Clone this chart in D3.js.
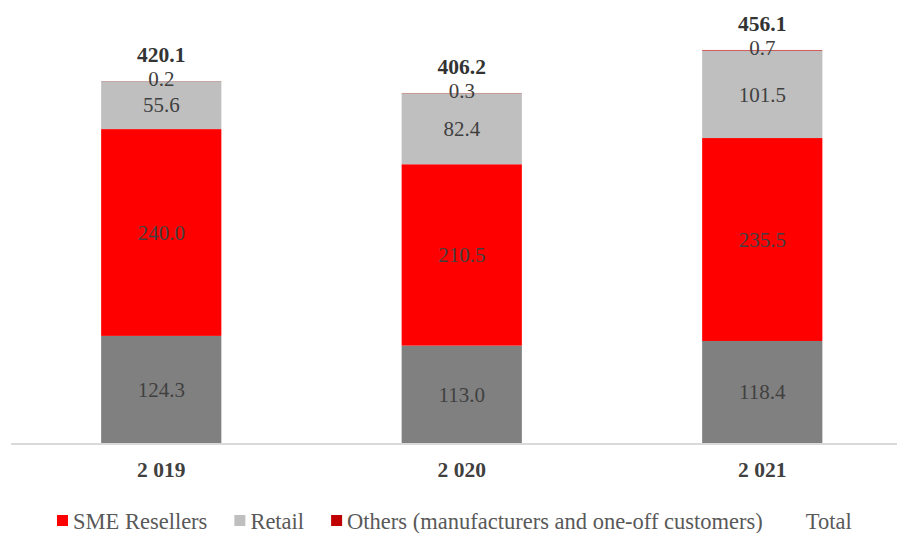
<!DOCTYPE html>
<html>
<head>
<meta charset="utf-8">
<script src="https://cdn.jsdelivr.net/npm/d3@7"></script>
<style>
  html, body { margin: 0; padding: 0; background: #ffffff; }
</style>
</head>
<body>
<div id="chart"></div>
<script>
// Chart data
const years = ['2 019', '2 020', '2 021'];
const baseValues = [124.3, 113.0, 118.4];
const smeValues = [240.0, 210.5, 235.5];
const retailValues = [55.6, 82.4, 101.5];
const othersValues = [0.2, 0.3, 0.7];
const totals = [420.1, 406.2, 456.1];

const seriesNames = ['', 'SME Resellers', 'Retail', 'Others (manufacturers and one-off customers)'];
const seriesColors = ['#808080', '#ff0000', '#bfbfbf', '#c00000'];
const seriesValues = [baseValues, smeValues, retailValues, othersValues];

const fontFamily = "'Liberation Serif', 'Times New Roman', Times, 'DejaVu Serif', serif";
const totalWidth = 897;
const totalHeight = 533;
const baseline = 443;

const svg = d3
  .select('#chart')
  .append('svg')
  .attr('width', totalWidth)
  .attr('height', totalHeight)
  .attr('font-family', fontFamily);

const xScale = d3
  .scaleBand()
  .domain(years)
  .range([11, 912.5])
  .paddingInner(0.6)
  .paddingOuter(0.3);

const yScale = d3.scaleLinear().domain([0, 420.1]).range([baseline, 81]);

// Build stacked rows
const rows = years.map((year, i) => {
  let acc = 0;
  return seriesValues.map((vals, s) => {
    const y0 = acc;
    acc += vals[i];
    return { year, s, value: vals[i], y0, y1: acc };
  });
});

// Bars
rows.forEach((segments) => {
  svg
    .selectAll(null)
    .data(segments)
    .join('rect')
    .attr('x', (d) => xScale(d.year))
    .attr('width', xScale.bandwidth())
    .attr('y', (d) => yScale(d.y1))
    .attr('height', (d) => yScale(d.y0) - yScale(d.y1))
    .attr('fill', (d) => seriesColors[d.s]);
});

// X axis line
svg
  .append('line')
  .attr('x1', 11)
  .attr('x2', totalWidth)
  .attr('y1', baseline + 1)
  .attr('y2', baseline + 1)
  .attr('stroke', '#d9d9d9')
  .attr('stroke-width', 2);

// Segment labels (tiny "others" label sits on the bar top)
rows.forEach((segments) => {
  svg
    .selectAll(null)
    .data(segments)
    .join('text')
    .attr('x', (d) => xScale(d.year) + xScale.bandwidth() / 2)
    .attr('y', (d) => (d.s === 3 ? yScale(d.y1) + 5 : (yScale(d.y0) + yScale(d.y1)) / 2))
    .attr('dy', (d) => (d.s === 3 ? 0 : '0.35em'))
    .attr('text-anchor', 'middle')
    .attr('font-size', 21)
    .attr('fill', '#404040')
    .text((d) => d.value.toFixed(1));
});

// Total labels
svg
  .selectAll('.total')
  .data(years)
  .join('text')
  .attr('class', 'total')
  .attr('x', (d) => xScale(d) + xScale.bandwidth() / 2)
  .attr('y', (d, i) => yScale(totals[i]) - 19)
  .attr('text-anchor', 'middle')
  .attr('font-size', 21.5)
  .attr('font-weight', 'bold')
  .attr('fill', '#333333')
  .text((d, i) => totals[i].toFixed(1));

// Category labels
svg
  .selectAll('.cat')
  .data(years)
  .join('text')
  .attr('class', 'cat')
  .attr('x', (d) => xScale(d) + xScale.bandwidth() / 2)
  .attr('y', 477)
  .attr('text-anchor', 'middle')
  .attr('font-size', 21.5)
  .attr('font-weight', 'bold')
  .attr('fill', '#404040')
  .text((d) => d);

// Legend
const legendItems = [
  { name: seriesNames[1], color: seriesColors[1] },
  { name: seriesNames[2], color: seriesColors[2] },
  { name: seriesNames[3], color: seriesColors[3] },
  { name: 'Total', color: 'none' },
];
const legend = svg.append('g').attr('transform', 'translate(57,521)');
let cursor = 0;
legendItems.forEach((item) => {
  const g = legend.append('g').attr('transform', `translate(${cursor},0)`);
  g.append('rect')
    .attr('x', 0)
    .attr('y', -6)
    .attr('width', 11)
    .attr('height', 11)
    .attr('fill', item.color);
  const t = g
    .append('text')
    .attr('x', 16)
    .attr('y', 0)
    .attr('dy', '0.35em')
    .attr('font-size', 22.5)
    .attr('fill', '#595959')
    .text(item.name);
  cursor += 16 + t.node().getComputedTextLength() + 27;
});
</script>
</body>
</html>
